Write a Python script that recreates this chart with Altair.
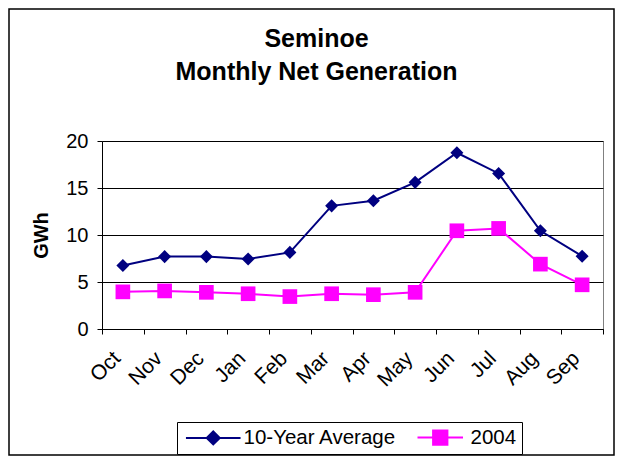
import altair as alt
import pandas as pd

months = ["Oct", "Nov", "Dec", "Jan", "Feb", "Mar", "Apr", "May", "Jun", "Jul", "Aug", "Sep"]
avg_10yr = [6.75, 7.7, 7.7, 7.45, 8.15, 13.1, 13.65, 15.6, 18.75, 16.55, 10.45, 7.75]
gen_2004 = [3.95, 4.05, 3.9, 3.75, 3.45, 3.75, 3.65, 3.9, 10.45, 10.7, 6.9, 4.7]
series_names = ["10-Year Average", "2004"]
series_colors = ["#000080", "#FF00FF"]

rows = []
for m, a, b in zip(months, avg_10yr, gen_2004):
    rows.append({"month": m, "series": series_names[0], "gwh": a})
    rows.append({"month": m, "series": series_names[1], "gwh": b})
df = pd.DataFrame(rows)

W, H = 501, 188
PL, PT = 94, 133
PR = 607 - PL - W
PB = 448 - PT - H

diamond_path = "M-4.2,0H4.2M-1,0L0,-1L1,0L0,1Z"
square_path = "M-3.5,0H3.5M-1.1,-1.1H1.1V1.1H-1.1Z"

x_enc = alt.X(
    "month:N", sort=months,
    scale=alt.Scale(type="band", paddingInner=0, paddingOuter=0),
    axis=alt.Axis(title=None, labelAngle=-45, labelAlign="right", labelBaseline="middle",
                  tickBand="extent", labelPadding=21, labelOffset=-6, tickSize=5, grid=False,
                  labelFontSize=21),
)
y_enc = alt.Y(
    "gwh:Q", scale=alt.Scale(domain=[0, 20], nice=False),
    axis=alt.Axis(title="GWh", values=[0, 5, 10, 15, 20], tickSize=5, labelPadding=9,
                  titlePadding=14, grid=True),
)
color_scale = alt.Scale(domain=series_names, range=series_colors)

base = alt.Chart(df)

lines = base.mark_line(strokeWidth=2).encode(
    x=x_enc, y=y_enc,
    color=alt.Color("series:N", scale=color_scale, legend=alt.Legend(
        orient="none", legendX=75, legendY=281, direction="horizontal", title=None,
        strokeColor="black", fillColor="white", padding=5,
        labelFontSize=20.5, labelFont="Liberation Sans", labelColor="black",
        symbolSize=169, symbolStrokeWidth=2, symbolOffset=21, labelOffset=20,
        columnPadding=12,
        symbolType=alt.ExprRef(expr=f"datum.value === '2004' ? '{square_path}' : '{diamond_path}'"),
        symbolFillColor=alt.ExprRef(expr="scale('color', datum.value)"),
    )),
)

pts_avg = base.transform_filter(alt.datum.series == series_names[0]).mark_point(
    shape="diamond", filled=True, size=170, opacity=1
).encode(x=x_enc, y=y_enc, color=alt.Color("series:N", scale=color_scale, legend=None))

pts_2004 = base.transform_filter(alt.datum.series == series_names[1]).mark_point(
    shape="square", filled=True, size=215, opacity=1
).encode(x=x_enc, y=y_enc, color=alt.Color("series:N", scale=color_scale, legend=None))

border = alt.Chart(alt.Data(values=[{}])).mark_rect(
    fill="transparent", stroke="black", strokeWidth=1.5
).encode(
    x=alt.value(-PL + 1), x2=alt.value(W + PR - 1),
    y=alt.value(-PT + 1), y2=alt.value(H + PB - 1),
)

chart = alt.layer(border, lines, pts_avg, pts_2004).properties(
    width=W, height=H,
    autosize=alt.AutoSizeParams(type="none"),
    padding={"left": PL, "top": PT, "right": PR, "bottom": PB},
    title=alt.TitleParams(
        ["Seminoe", "Monthly Net Generation"], fontSize=25, fontWeight="bold",
        font="Liberation Sans", color="black", anchor="middle", frame="group",
        baseline="alphabetic", dx=-36, offset=-97, lineHeight=33,
    ),
).configure_view(stroke="#808080", strokeWidth=1).configure_axis(
    labelFont="Liberation Sans", labelFontSize=20, labelColor="black",
    titleFont="Liberation Sans", titleFontSize=20, titleFontWeight="bold", titleColor="black",
    domainColor="black", tickColor="black", gridColor="black", gridOpacity=1, gridWidth=1,
    domainWidth=1,
)

chart.save("out.html", embed_options={"renderer": "svg", "actions": False})
